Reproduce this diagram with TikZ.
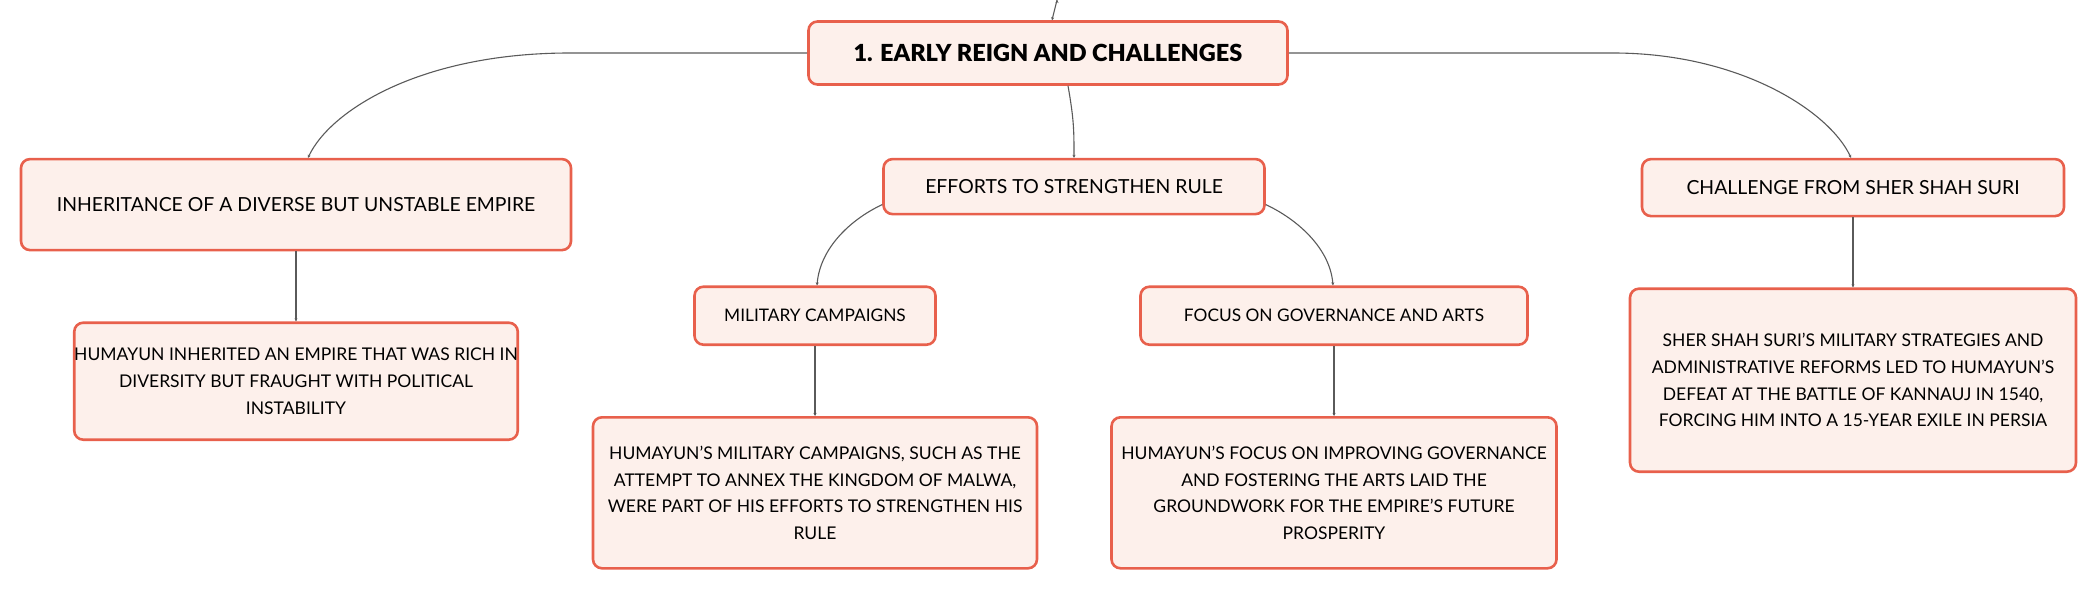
\documentclass[tikz,border=0pt]{standalone}
\usepackage{fontspec}
\setmainfont{Lato}
\newfontfamily\blackfont{Lato Black}
\usetikzlibrary{
  arrows.meta,
  positioning,  % Function "of" (e.g. [below=of x])
}
\definecolor{boxline}{HTML}{E8604C}
\definecolor{boxfill}{HTML}{FDF0EB}
\definecolor{linkgray}{HTML}{5A5A5A}
\def\mygap{70pt}
\def\mytopgap{72pt}
\tikzset{
  x=1pt,
  y=-1pt,
  my box/.style={
    draw=boxline,
    fill=boxfill,
    line width=2.6pt,
    rounded corners=9pt,
    align=center,
    inner sep=0pt,
    text=black,
    rectangle
  },
  my root/.style={
    my box,
    font=\fontsize{23.5}{28}\selectfont\blackfont
  },
  my branch/.style={
    my box,
    font=\fontsize{19.4}{24}\selectfont
  },
  my sub/.style={
    my box,
    font=\fontsize{17.3}{22}\selectfont
  },
  my note/.style={
    my box,
    font=\fontsize{17.5}{26.7}\selectfont
  },
  my link/.style={
    draw=linkgray,
    line width=1.1pt,
    -{Stealth[length=3pt,width=3pt]}
  }
}
\begin{document}
\begin{tikzpicture}
\useasboundingbox (0,0) rectangle (2099,591);
\node[my root, minimum width=479pt, minimum height=63pt] (root) at (1048,53)
  {1. EARLY REIGN AND CHALLENGES};
\node[my branch, minimum width=550pt, minimum height=91pt]
  (inh) [below=\mytopgap of root, xshift=-752pt]
  {INHERITANCE OF A DIVERSE BUT UNSTABLE EMPIRE};
\node[my branch, minimum width=381pt, minimum height=55pt]
  (eff) [below=\mytopgap of root, xshift=26pt]
  {EFFORTS TO STRENGTHEN RULE};
\node[my branch, minimum width=422pt, minimum height=57pt]
  (sher) [below=\mytopgap of root, xshift=805pt]
  {CHALLENGE FROM SHER SHAH SURI};
\node[my sub, minimum width=241pt, minimum height=58pt]
  (mil) [below=\mygap of eff, xshift=-259pt]
  {MILITARY CAMPAIGNS};
\node[my sub, minimum width=387pt, minimum height=58pt]
  (gov) [below=\mygap of eff, xshift=260pt]
  {FOCUS ON GOVERNANCE AND ARTS};
% details
\node[my note, minimum width=442pt, minimum height=117pt]
  (inhnote) [below=\mygap of inh]
  {HUMAYUN INHERITED AN EMPIRE THAT WAS RICH IN\\
   DIVERSITY BUT FRAUGHT WITH POLITICAL\\
   INSTABILITY};
\node[my note, minimum width=444pt, minimum height=151pt]
  (milnote) [below=\mygap of mil]
  {HUMAYUN'S MILITARY CAMPAIGNS, SUCH AS THE\\
   ATTEMPT TO ANNEX THE KINGDOM OF MALWA,\\
   WERE PART OF HIS EFFORTS TO STRENGTHEN HIS\\
   RULE};
\node[my note, minimum width=445pt, minimum height=151pt]
  (govnote) [below=\mygap of gov]
  {HUMAYUN'S FOCUS ON IMPROVING GOVERNANCE\\
   AND FOSTERING THE ARTS LAID THE\\
   GROUNDWORK FOR THE EMPIRE'S FUTURE\\
   PROSPERITY};
\node[my note, minimum width=446pt, minimum height=183pt]
  (shernote) [below=\mygap of sher]
  {SHER SHAH SURI'S MILITARY STRATEGIES AND\\
   ADMINISTRATIVE REFORMS LED TO HUMAYUN'S\\
   DEFEAT AT THE BATTLE OF KANNAUJ IN 1540,\\
   FORCING HIM INTO A 15-YEAR EXILE IN PERSIA};
\coordinate (up) at (1057,0);
% links
\path[my link] (up) edge ([xshift=4pt]root.north);
\draw[my link] (root.west) -- (570,53)
  .. controls +(-150,0) and +(22,-47) .. ([xshift=12pt]inh.north);
\draw[my link] (root.east) -- (1613,53)
  .. controls +(126,0) and +(-22,-47) .. ([xshift=-2pt]sher.north);
\draw[my link] ([xshift=20pt]root.south)
  .. controls +(6,34) and +(0,-27) .. (eff.north);
\draw[my link] ([yshift=-18pt]eff.west)
  .. controls +(-32,15) and +(3,-37) .. ([xshift=2pt]mil.north);
\draw[my link] ([yshift=-18pt]eff.east)
  .. controls +(32,15) and +(-3,-37) .. ([xshift=-1pt]gov.north);
\path[my link] (inh)  edge (inhnote)
               (mil)  edge (milnote)
               (gov)  edge (govnote)
               (sher) edge (shernote);
\end{tikzpicture}
\end{document}
